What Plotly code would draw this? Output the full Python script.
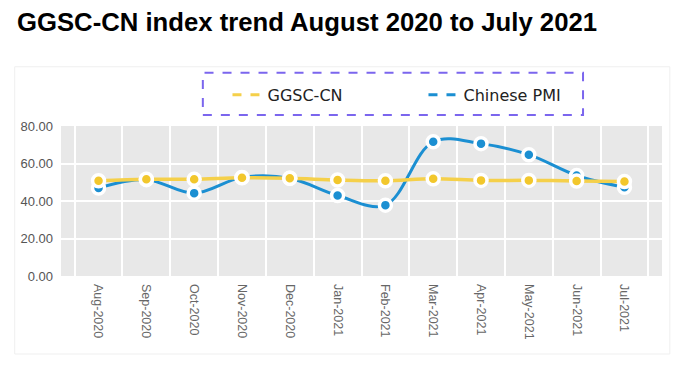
import plotly.graph_objects as go

months = ["Aug-2020", "Sep-2020", "Oct-2020", "Nov-2020", "Dec-2020", "Jan-2021",
          "Feb-2021", "Mar-2021", "Apr-2021", "May-2021", "Jun-2021", "Jul-2021"]
ggsc_cn = [50.8, 51.6, 51.6, 52.4, 52.1, 51.2, 50.8, 51.9, 51.0, 51.0, 50.7, 50.4]
chinese_pmi = [46.9, 51.4, 44.2, 52.6, 52.1, 42.9, 37.8, 71.6, 70.6, 64.7, 53.6, 47.3]

YELLOW = "#f5d04a"
YELLOW_DOT = "#f2c72c"
BLUE = "#1b8fd2"

fig = go.Figure()

fig.add_trace(go.Scatter(x=months, y=chinese_pmi, mode="lines",
                         line=dict(color=BLUE, width=3, shape="spline", smoothing=1.0),
                         showlegend=False, hoverinfo="skip"))
fig.add_trace(go.Scatter(x=months, y=ggsc_cn, mode="lines",
                         line=dict(color=YELLOW, width=3.5, shape="spline", smoothing=1.0),
                         showlegend=False, hoverinfo="skip"))
fig.add_trace(go.Scatter(x=months, y=chinese_pmi, mode="markers",
                         marker=dict(color=BLUE, size=12, line=dict(color="white", width=3.5)),
                         showlegend=False))
fig.add_trace(go.Scatter(x=months, y=ggsc_cn, mode="markers",
                         marker=dict(color=YELLOW_DOT, size=12, line=dict(color="white", width=3.5)),
                         showlegend=False))
fig.add_trace(go.Scatter(x=[None], y=[None], mode="lines", name="GGSC-CN",
                         line=dict(color=YELLOW, width=3, dash="dash")))
fig.add_trace(go.Scatter(x=[None], y=[None], mode="lines", name="Chinese PMI",
                         line=dict(color=BLUE, width=3, dash="dash")))

W, H = 677, 358
fig.update_layout(
    width=W, height=H,
    margin=dict(l=53, r=23, t=118, b=90),
    paper_bgcolor="white",
    plot_bgcolor="#e8e8e8",
    font=dict(family="Liberation Sans, Arial, sans-serif", color="#555"),
    title=dict(text="<b>GGSC-CN index trend August 2020 to July 2021</b>",
               font=dict(family="Liberation Sans, Arial, sans-serif", size=25.7, color="black"),
               x=9/W, xanchor="left", xref="container",
               y=1 - 5/H, yanchor="top", yref="container"),
    xaxis=dict(type="category", tickson="boundaries", showgrid=True, gridcolor="white",
               gridwidth=1.5, tickangle=90, ticks="", showline=False, zeroline=False,
               ticklabelstandoff=7,
               tickfont=dict(size=12.5, color="#666")),
    yaxis=dict(range=[0, 80], dtick=20, tickformat=".2f", showgrid=True, gridcolor="white",
               gridwidth=1.5, zeroline=False, ticks="", ticklabelstandoff=7,
               tickfont=dict(size=13, color="#555")),
    legend=dict(orientation="h", x=0.277, xanchor="left", y=1.207, yanchor="middle",
                font=dict(family="DejaVu Sans, Verdana, sans-serif", size=16, color="#222"),
                bgcolor="rgba(0,0,0,0)", entrywidth=151, itemwidth=30),
    shapes=[
        dict(type="rect", xref="paper", yref="paper", x0=-0.077, x1=1.013, y0=-0.52, y1=1.395,
             line=dict(color="#efefef", width=1), fillcolor="rgba(0,0,0,0)", layer="below"),
        dict(type="rect", xref="paper", yref="paper", x0=0.236, x1=0.8686, y0=1.073, y1=1.355,
             line=dict(color="#7b66ee", width=2, dash="dash"), fillcolor="rgba(0,0,0,0)"),
    ],
)

fig.write_html("out.html")
